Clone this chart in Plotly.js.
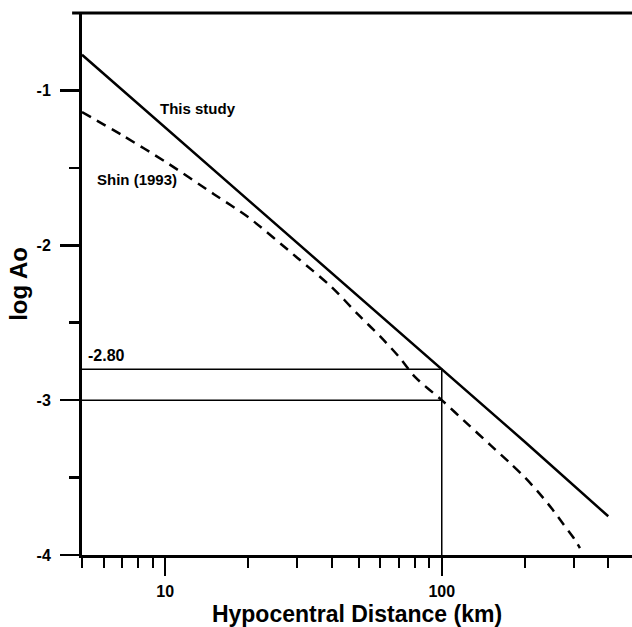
<!DOCTYPE html>
<html>
<head>
<meta charset="utf-8">
<script src="https://cdn.plot.ly/plotly-3.0.1.min.js"></script>
<style>
  html, body { margin: 0; padding: 0; background: #fff; }
  #chart { width: 632px; height: 627px; }
</style>
</head>
<body>
<div id="chart"></div>
<script>
// Distance (km) and log Ao values
const thisStudyR    = [5, 10, 20, 50, 100, 200, 400];
const thisStudyLogA = [-0.77, -1.24, -1.71, -2.33, -2.80, -3.27, -3.75];

const shinR    = [5, 7, 10, 15, 20, 30, 40, 50, 60, 70, 80, 100, 125, 150, 175, 200, 225, 250, 275, 300, 316];
const shinLogA = [-1.14, -1.29, -1.46, -1.67, -1.82, -2.08, -2.27, -2.45, -2.59, -2.72, -2.85, -3.00, -3.16, -3.29, -3.40, -3.50, -3.60, -3.70, -3.80, -3.89, -3.955];

// Guide lines at R = 100 km
const guideR1    = [5, 100, 100];
const guideLogA1 = [-2.80, -2.80, -4.00];
const guideR2    = [5, 100];
const guideLogA2 = [-3.00, -3.00];

// Axis ticks
const xTickVals  = [10, 100];
const xTickText  = ['10', '100'];
const xMinorVals = [5, 6, 7, 8, 9, 20, 30, 40, 50, 60, 70, 80, 90, 200, 300, 400];
const yTickVals  = [-1, -2, -3, -4];
const yTickText  = ['-1', '-2', '-3', '-4'];
const yMinorVals = [-1.5, -2.5, -3.5];

const FONT = 'Liberation Sans, Arial, Helvetica, sans-serif';
const bold = s => '<b>' + s + '</b>';

const traces = [
  { x: thisStudyR, y: thisStudyLogA, type: 'scatter', mode: 'lines',
    line: { color: '#000', width: 2.5 }, name: 'This study', hoverinfo: 'skip' },
  { x: shinR, y: shinLogA, type: 'scatter', mode: 'lines',
    line: { color: '#000', width: 2.5, dash: '10px,7px', shape: 'spline', smoothing: 0.8 }, name: 'Shin (1993)', hoverinfo: 'skip' },
  { x: guideR1, y: guideLogA1, type: 'scatter', mode: 'lines',
    line: { color: '#000', width: 1.5 }, hoverinfo: 'skip' },
  { x: guideR2, y: guideLogA2, type: 'scatter', mode: 'lines',
    line: { color: '#000', width: 1.5 }, hoverinfo: 'skip' }
];

const layout = {
  width: 632, height: 627,
  margin: { l: 82, r: 0, t: 13, b: 72 },
  paper_bgcolor: '#fff', plot_bgcolor: '#fff',
  showlegend: false,
  font: { family: FONT, color: '#000', size: 15 },
  xaxis: {
    type: 'log',
    range: [Math.log10(5), 2.688],
    showgrid: false, zeroline: false,
    showline: true, linecolor: '#000', linewidth: 2.5,
    tickmode: 'array', tickvals: xTickVals, ticktext: xTickText.map(bold),
    ticks: 'outside', ticklen: 18, tickwidth: 2.5, tickcolor: '#000',
    ticklabelstandoff: 2,
    minor: { tickmode: 'array', tickvals: xMinorVals, ticks: 'outside', ticklen: 10, tickwidth: 2, tickcolor: '#000', showgrid: false },
    tickfont: { family: FONT, size: 16, color: '#000' },
    title: { text: bold('Hypocentral Distance (km)'), font: { family: FONT, size: 23, color: '#000' }, standoff: 14 },
    automargin: false
  },
  yaxis: {
    range: [-4, -0.5],
    showgrid: false, zeroline: false,
    showline: true, linecolor: '#000', linewidth: 3,
    tickmode: 'array', tickvals: yTickVals, ticktext: yTickText.map(bold),
    ticks: 'outside', ticklen: 19, tickwidth: 2.5, tickcolor: '#000',
    ticklabelstandoff: 6,
    minor: { tickmode: 'array', tickvals: yMinorVals, ticks: 'outside', ticklen: 10, tickwidth: 2.5, tickcolor: '#000', showgrid: false },
    tickfont: { family: FONT, size: 16, color: '#000' },
    title: { text: bold('log Ao'), font: { family: FONT, size: 24, color: '#000' }, standoff: 3 },
    automargin: false
  },
  shapes: [
    { type: 'line', xref: 'paper', yref: 'paper', x0: -0.018, x1: 1, y0: 1, y1: 1,
      line: { color: '#000', width: 3 } }
  ],
  annotations: [
    { x: Math.log10(13.1), y: -1.116, xref: 'x', yref: 'y', text: bold('This study'), showarrow: false,
      font: { family: FONT, size: 15, color: '#000' } },
    { x: Math.log10(7.9), y: -1.574, xref: 'x', yref: 'y', text: bold('Shin (1993)'), showarrow: false,
      font: { family: FONT, size: 15, color: '#000' } },
    { x: Math.log10(5), y: -2.80, xref: 'x', yref: 'y', text: bold('-2.80'), showarrow: false,
      xanchor: 'left', yanchor: 'bottom', xshift: 4, yshift: 3,
      font: { family: FONT, size: 16, color: '#000' } }
  ]
};

Plotly.newPlot('chart', traces, layout, { staticPlot: true, displayModeBar: false });
</script>
</body>
</html>
